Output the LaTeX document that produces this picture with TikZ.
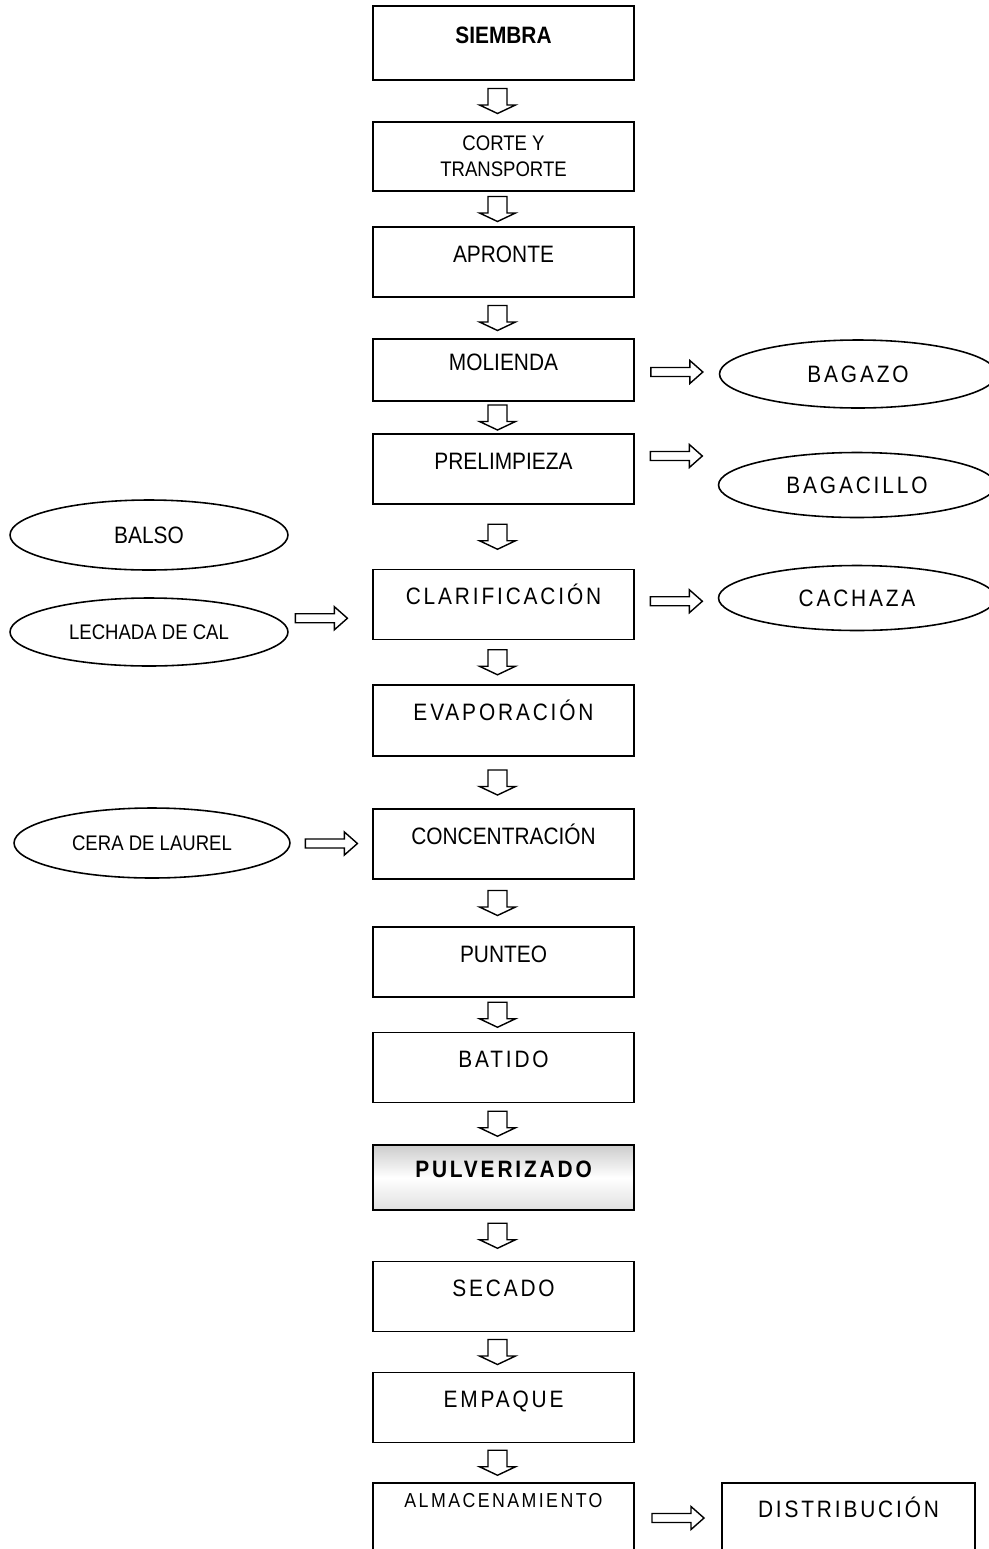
\documentclass[tikz,border=0pt]{standalone}
\usepackage{fontspec}
\setmainfont{Liberation Sans}[FakeStretch=0.88]
\newfontfamily\espaciada{Liberation Sans}[FakeStretch=0.88,LetterSpace=12]
\usetikzlibrary{shapes.geometric, calc}

\tikzset{
  marco/.style={draw, line width=1.1pt, minimum width=5.22cm, inner sep=0pt,
    font=\fontsize{13.5}{16}\selectfont},
  caja/.style={marco, text height=0.7cm, text depth=0.7cm},
  elipse/.style={draw, ellipse, line width=0.9pt, inner sep=0pt,
    minimum width=5.4cm, minimum height=1.36cm, font=\fontsize{13.5}{16}\selectfont},
  bloque/.style={draw, line width=0.8pt, fill=white, line join=miter}
}
% flecha hueca hacia abajo entre dos cajas
\newcommand{\abajo}[2]{%
  \draw[bloque, shift={($(#1.south)!0.5!(#2.north)+(-6,0)$)}]
    (-9.5,-12.5) -- (9.5,-12.5) -- (9.5,4) -- (18,4) -- (0,12.5)
    -- (-18,4) -- (-9.5,4) -- cycle;}
% flecha hueca hacia la derecha
\newcommand{\derecha}[3][0,0]{%
  \draw[bloque, shift={($(#2.east)!0.5!(#3.west)+(#1)$)}]
    (-26,-4.5) -- (13,-4.5) -- (13,-11.5) -- (26,0) -- (13,11.5)
    -- (13,4.5) -- (-26,4.5) -- cycle;}

\begin{document}
\begin{tikzpicture}[x=0.02cm, y=-0.02cm]
  \useasboundingbox (0,0) rectangle (989,1549);

  % columna principal
  \node[caja, text height=0.74cm, text depth=0.74cm,
        font=\fontsize{13.5}{16}\selectfont\bfseries] (siembra) at (503.5,43) {SIEMBRA};
  \node[marco, minimum height=1.38cm, align=center,
        font=\fontsize{12}{14.7}\selectfont] (corte) at (503.5,156.5) {CORTE Y\\TRANSPORTE};
  \node[caja] (apronte) at (503.5,262) {APRONTE};
  \node[caja, text height=0.62cm, text depth=0.62cm] (molienda) at (503.5,370) {MOLIENDA};
  \node[caja] (prelimpieza) at (503.5,469) {PRELIMPIEZA};
  \node[caja] (clarificacion) at (503.5,604.5) {\espaciada CLARIFICACIÓN};
  \node[caja, text height=0.71cm, text depth=0.71cm] (evaporacion) at (503.5,720.5) {\espaciada EVAPORACIÓN};
  \node[caja] (concentracion) at (503.5,844) {CONCENTRACIÓN};
  \node[caja] (punteo) at (503.5,962) {PUNTEO};
  \node[caja] (batido) at (503.5,1067.5) {\espaciada BATIDO};
  \node[caja, text height=0.65cm, text depth=0.65cm, top color=black!20,
        bottom color=black!12, middle color=white,
        font=\fontsize{13.5}{16}\selectfont\bfseries] (pulverizado) at (503.5,1177.5) {\espaciada PULVERIZADO};
  \node[caja] (secado) at (503.5,1296.5) {\espaciada SECADO};
  \node[caja] (empaque) at (503.5,1407.5) {\espaciada EMPAQUE};
  \node[caja, anchor=base, text height=0.48cm, text depth=0.92cm,
        font=\fontsize{11.5}{14}\selectfont] (almacenamiento) at (503.5,1507) {\espaciada ALMACENAMIENTO};
  \node[caja, anchor=base, minimum width=5.06cm, text height=0.68cm,
        text depth=0.72cm] (distribucion) at (848.5,1517) {\espaciada DISTRIBUCIÓN};

  % subproductos
  \node[elipse, minimum width=5.54cm] (bagazo) at (858,374) {\espaciada BAGAZO};
  \node[elipse, minimum width=5.54cm, minimum height=1.3cm] (bagacillo) at (857,485) {\espaciada BAGACILLO};
  \node[elipse, minimum width=5.54cm, minimum height=1.3cm] (cachaza) at (857,598) {\espaciada CACHAZA};

  % insumos
  \node[elipse, minimum width=5.56cm, minimum height=1.4cm] (balso) at (149,535) {BALSO};
  \node[elipse, minimum width=5.56cm, minimum height=1.36cm,
        font=\fontsize{12}{14}\selectfont] (lechada) at (149,632) {LECHADA DE CAL};
  \node[elipse, minimum width=5.52cm, minimum height=1.4cm,
        font=\fontsize{12}{14}\selectfont] (cera) at (152,843) {CERA DE LAUREL};

  % flechas
  \abajo{siembra}{corte}
  \abajo{corte}{apronte}
  \abajo{apronte}{molienda}
  \abajo{molienda}{prelimpieza}
  \abajo{prelimpieza}{clarificacion}
  \abajo{clarificacion}{evaporacion}
  \abajo{evaporacion}{concentracion}
  \abajo{concentracion}{punteo}
  \abajo{punteo}{batido}
  \abajo{batido}{pulverizado}
  \abajo{pulverizado}{secado}
  \abajo{secado}{empaque}
  \abajo{empaque}{almacenamiento}

  \derecha{molienda}{bagazo}
  \derecha[0,-21]{prelimpieza}{bagacillo}
  \derecha{clarificacion}{cachaza}
  \derecha[-9,0]{lechada}{clarificacion}
  \derecha{cera}{concentracion}
  \derecha{almacenamiento}{distribucion}
\end{tikzpicture}
\end{document}
